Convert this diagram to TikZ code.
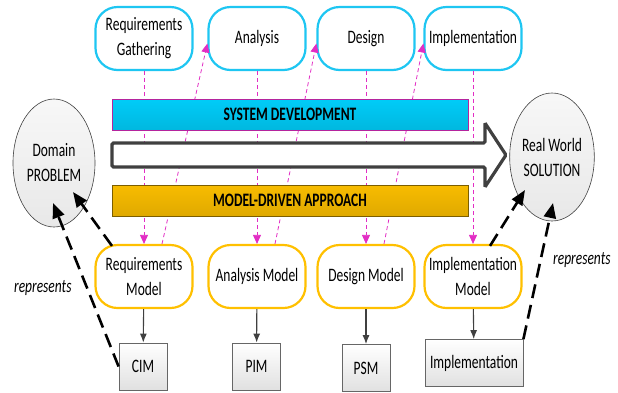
\documentclass[tikz,border=0pt]{standalone}
\usepackage{fontspec}
\setmainfont{Carlito}[FakeStretch=0.71]
\usepackage{xcolor}
\usepackage{tikz}
\usetikzlibrary{positioning}
\usetikzlibrary{arrows.meta}
\usetikzlibrary{shapes}
\usetikzlibrary{calc}

\definecolor{phasecyan}{HTML}{1EC6F2}
\definecolor{modelorange}{HTML}{FFC000}
\definecolor{linkmagenta}{HTML}{E22DC4}
\definecolor{devcyan}{HTML}{00CCF8}
\definecolor{mdagold}{HTML}{F8BC00}

\begin{document}
\begin{tikzpicture}[x=1pt, y=-1pt, >=Latex,
    font=\fontsize{19}{25}\selectfont]

\tikzset{%
    every box/.style = {
        rectangle,
        rounded corners=22pt,
        line width=2.2pt,
        fill=white,
        align=center,
        minimum width=97pt,
        minimum height=63pt,
        inner sep=0pt
    },
    phase box/.style = {draw=phasecyan},
    model box/.style = {draw=modelorange},
    artifact box/.style = {
        rectangle,
        draw=black!60,
        line width=0.8pt,
        top color=white,
        bottom color=black!12,
        minimum height=47pt,
        inner sep=0pt
    },
    world/.style = {
        ellipse,
        draw=black!75,
        line width=0.6pt,
        top color=black!3,
        bottom color=black!9,
        minimum width=82pt,
        minimum height=128pt,
        align=center,
        inner sep=0pt
    },
    bar/.style = {
        rectangle,
        minimum width=356pt,
        minimum height=31pt,
        font=\fontsize{19}{25}\selectfont\bfseries
    },
    dev bar/.style = {bar, draw=linkmagenta!80!black, top color=devcyan, bottom color=devcyan!90!black},
    mda bar/.style = {bar, draw=mdagold!50!black, top color=mdagold, bottom color=mdagold!90!black},
    flow arrow/.style = {draw=black!75, line width=3.2pt, fill=white, rounded corners=1.5pt},
    phase link/.style = {
        draw=linkmagenta,
        line width=0.8pt,
        dash pattern=on 4pt off 3pt,
        -{Triangle[length=9pt,width=8pt]}
    },
    build link/.style = {draw=black!75, line width=1.1pt, -{Latex[length=9pt,width=7pt]}},
    represents link/.style = {
        draw=black,
        line width=2.6pt,
        dash pattern=on 14pt off 7pt,
        -{Triangle[length=15pt,width=12pt]}
    }
}

\useasboundingbox (0,0) rectangle (618,392);

% phases and models
\foreach \x/\l [count=\i] in {144/{Requirements\\Gathering}, 257/Analysis, 366/Design, 473/Implementation}
  \node [every box/.try, phase box] (phase-\i) at (\x,38.5) {\l};

\foreach \x/\l [count=\i] in {144/{Requirements\\Model}, 257/Analysis Model, 366/Design Model, 473/{Implementation\\Model}}
  \node [every box/.try, model box] (model-\i) at (\x,276.5) {\l};

\foreach \x/\y/\w/\l [count=\i] in {143/366.5/48/CIM, 256.5/366.5/48/PIM, 366/368/48/PSM, 474/363/98/Implementation}
  \node [artifact box, minimum width=\w pt] (artifact-\i) at (\x,\y) {\l};

\foreach \i in {1,...,4}
{
  \draw [phase link] (phase-\i) -- (model-\i);
  \draw [build link] (model-\i) -- (artifact-\i);
}

\foreach \i [count=\j from 2] in {1,2,3}
  \draw [phase link] ([xshift=18pt]model-\i.north) -- ([yshift=-5pt]phase-\j.west);

% bars over the links
\node [dev bar] (sysdev) at (290,114.5) {SYSTEM DEVELOPMENT};
\draw [flow arrow] (112,143) -- (485,143) -- (485,123) -- (506,155)
  -- (485,187) -- (485,167) -- (112,167) -- cycle;
\node [mda bar] (mda) at (290,200.5) {MODEL-DRIVEN APPROACH};

\node [world] (problem) at (54,163) {Domain\\PROBLEM};
\node [world] (solution) at (552,157) {Real World\\SOLUTION};

\draw [represents link] ([xshift=-32pt,yshift=-2pt]model-1.north) -- ($(problem.center)+(19,29)$);
\draw [represents link] (artifact-1.west) -- ($(problem.center)+(-1,40)$)
  node [pos=.48, left=11pt, font=\fontsize{19}{25}\selectfont\itshape] {represents};
\draw [represents link] ([xshift=17pt,yshift=-2pt]model-4.north) -- ($(solution.center)+(-27,33)$);
\draw [represents link] (artifact-4.north east) -- ($(solution.center)+(1,46)$)
  node [pos=.58, right=8pt, font=\fontsize{19}{25}\selectfont\itshape] {represents};

\end{tikzpicture}
\end{document}
